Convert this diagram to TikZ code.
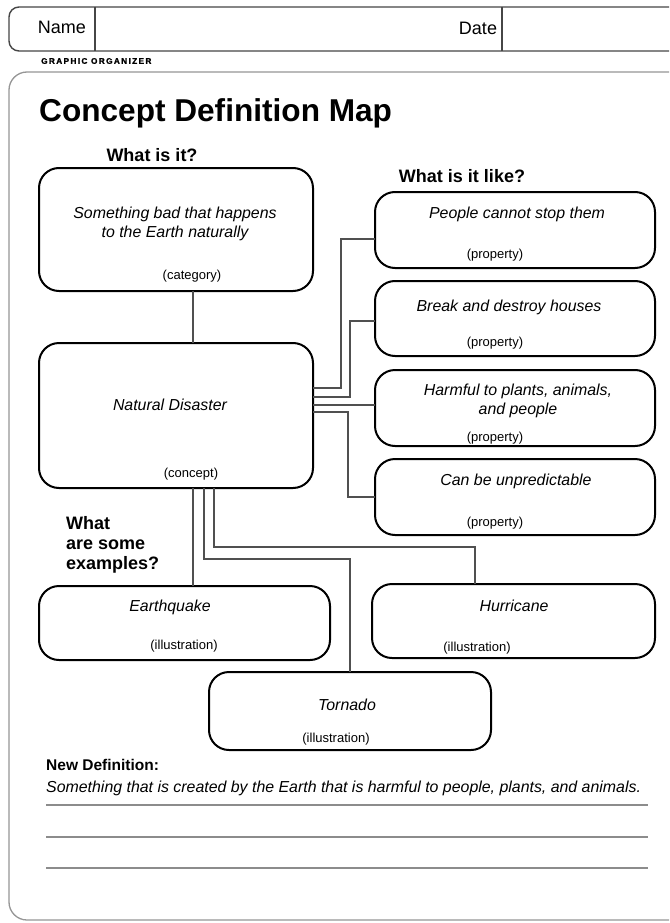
\documentclass[tikz,border=0pt]{standalone}
\usepackage{fontspec}
\setmainfont{Liberation Sans}
\usepackage{xcolor}
\usepackage{tikz}
\usetikzlibrary{calc}
\definecolor{framegray}{RGB}{150,150,150}
\definecolor{headgray}{RGB}{70,70,70}
\definecolor{linkgray}{RGB}{80,80,80}
\definecolor{rulegray}{RGB}{140,140,140}
\tikzset{
  % concept boxes
  box/.style={
    draw=black,
    line width=2pt,
    rounded corners=20pt,
    outer sep=0pt,
    inner sep=0pt
  },
  % box contents
  txt/.style={font=\fontsize{15.9}{19}\selectfont\itshape, align=center, inner sep=0pt},
  tag/.style={font=\fontsize{13}{15}\selectfont, inner sep=0pt},
  % questions
  ask/.style={font=\fontsize{18}{20}\selectfont\bfseries, align=left, inner sep=0pt},
  % connectors
  link/.style={draw=linkgray, line width=1.3pt},
}

\begin{document}
\begin{tikzpicture}[x=1pt, y=-1pt]
        \clip (0,0) rectangle (669,923);
        \fill[white] (0,0) rectangle (669,923);

        % Header
        \draw[headgray, line width=1.4pt, rounded corners=10pt] (690,7) -- (9,7) -- (9,51) -- (690,51);
        \draw[headgray, line width=1.4pt] (95,7) -- (95,51);
        \draw[headgray, line width=1.4pt] (502,7) -- (502,51);
        \node[font=\fontsize{18}{20}\selectfont, inner sep=0pt] (name) at (62,27) {Name};
        \node[font=\fontsize{18}{20}\selectfont, inner sep=0pt] (date) at (478,28) {Date};
        \node[font=\fontsize{8.2}{9}\selectfont\bfseries\addfontfeature{LetterSpace=17,FakeBold=1.5}, anchor=west, inner sep=0pt] (kind) at (41,61) {GRAPHIC ORGANIZER};

        % Frame
        \draw[framegray, line width=1.3pt, rounded corners=18pt] (690,72) -- (9,72) -- (9,920) -- (690,920);
        \node[font=\fontsize{31.6}{34}\selectfont\bfseries, anchor=west, inner sep=0pt] (title) at (39,113) {Concept Definition Map};

        % Questions
        \node[ask] (askwhat) at (152,155) {What is it?};
        \node[ask] (asklike) at (462,176) {What is it like?};
        \node[ask, anchor=west] (askex) at (66,545) {What\\are some\\examples?};

        % Category and concept
        \node[box, minimum width=274pt, minimum height=123pt] (cat) at (176,229.5) {};
        \node[txt] (cattxt) at (175,223.5) {Something bad that happens\\to the Earth naturally};
        \node[tag] (cattag) at (192,276) {(category)};
        \node[box, minimum width=274pt, minimum height=145pt] (concept) at (176,415.5) {};
        \node[txt] (contxt) at (170,405) {Natural Disaster};
        \node[tag] (contag) at (191,474) {(concept)};

        % Properties
        \node[box, minimum width=280pt, minimum height=76pt] (p1) at (515,230) {};
        \node[txt] (p1txt) at (517,214) {People cannot stop them};
        \node[tag] (p1tag) at (495,255) {(property)};
        \node[box, minimum width=280pt, minimum height=75pt] (p2) at (515,318.5) {};
        \node[txt] (p2txt) at (509,307) {Break and destroy houses};
        \node[tag] (p2tag) at (495,343) {(property)};
        \node[box, minimum width=280pt, minimum height=76pt] (p3) at (515,408) {};
        \node[txt] (p3txt) at (518,400.5) {Harmful to plants, animals,\\and people};
        \node[tag] (p3tag) at (495,438) {(property)};
        \node[box, minimum width=280pt, minimum height=76pt] (p4) at (515,497) {};
        \node[txt] (p4txt) at (516,481) {Can be unpredictable};
        \node[tag] (p4tag) at (495,523) {(property)};

        % Examples
        \node[box, minimum width=291pt, minimum height=74pt] (quake) at (184.5,623) {};
        \node[txt] (quaketxt) at (170,607) {Earthquake};
        \node[tag] (quaketag) at (184,646) {(illustration)};
        \node[box, minimum width=283pt, minimum height=74pt] (hurri) at (513.5,621) {};
        \node[txt] (hurritxt) at (514,606) {Hurricane};
        \node[tag] (hurritag) at (477,648) {(illustration)};
        \node[box, minimum width=282pt, minimum height=78pt] (torn) at (350,711) {};
        \node[txt] (torntxt) at (347,705) {Tornado};
        \node[tag] (torntag) at (336,739) {(illustration)};

        % Links
        \draw[link] ([xshift=17pt]cat.south) -- ([xshift=17pt]concept.north);
        \draw[link] ([yshift=27.5pt]concept.east) -- ++(28,0) |- ([yshift=-9pt]p1.west);
        \draw[link] ([yshift=18.5pt]concept.east) -- ++(37,0) |- ([yshift=-2.5pt]p2.west);
        \draw[link] ([yshift=10.5pt]concept.east) -- ([yshift=3pt]p3.west);
        \draw[link] ([yshift=3.5pt]concept.east) -- ++(35,0) |- (p4.west);
        \draw[link] ([xshift=17pt]concept.south) -- ([xshift=8.5pt]quake.north);
        \draw[link] ([xshift=28pt]concept.south) -- ++(0,71) -| (torn.north);
        \draw[link] ([xshift=38pt]concept.south) -- ++(0,59) -| ([xshift=-38.5pt]hurri.north);

        % New definition
        \node[font=\fontsize{15.5}{18}\selectfont\bfseries, anchor=west, inner sep=0pt] (newdef) at (46,765) {New Definition:};
        \node[font=\fontsize{15.9}{18}\selectfont\itshape, anchor=west, inner sep=0pt] (deftxt) at (46,788) {Something that is created by the Earth that is harmful to people, plants, and animals.};
        \foreach \y in {805,837,868}
            \draw[rulegray, line width=1.2pt] (46,\y) -- (648,\y);
    \end{tikzpicture}
\end{document}
